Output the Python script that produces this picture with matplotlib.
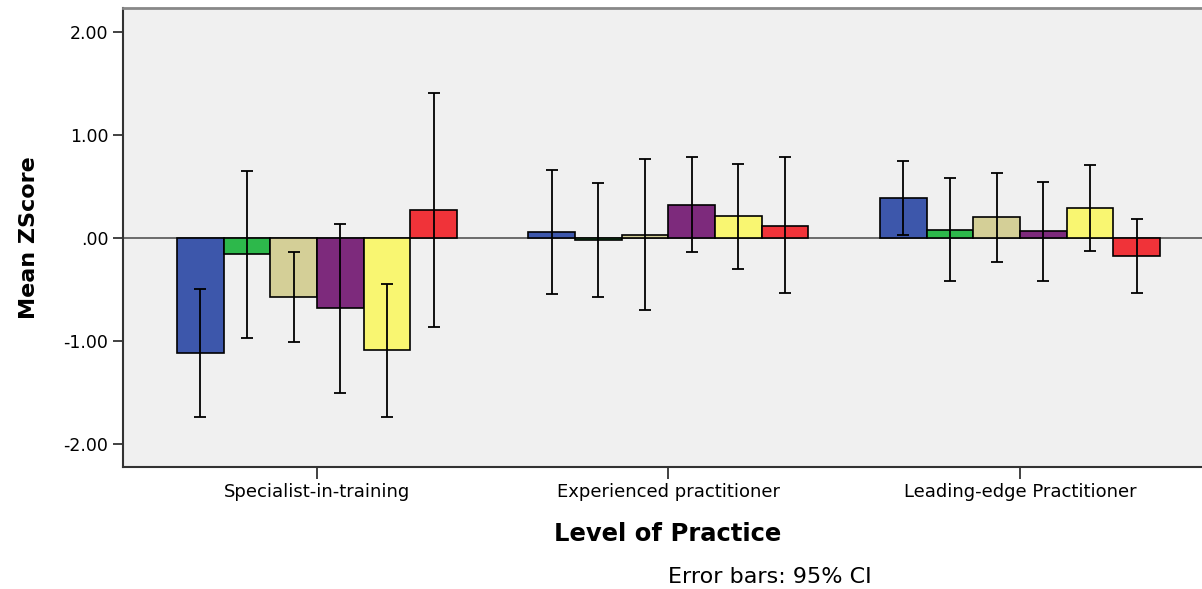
import numpy as np
import matplotlib
matplotlib.use("Agg")
import matplotlib.pyplot as plt

plt.rcParams['font.family'] = ['DejaVu Sans']

# values
levels = ["Specialist-in-training", "Experienced practitioner", "Leading-edge Practitioner"]
colors = ["#3D57AB", "#2DB84B", "#D4CF97", "#7D2A7C", "#F9F671", "#F03339"]

blue_mean = [-1.12, 0.06, 0.39]
green_mean = [-0.16, -0.02, 0.08]
khaki_mean = [-0.57, 0.03, 0.20]
purple_mean = [-0.68, 0.325, 0.065]
yellow_mean = [-1.09, 0.21, 0.29]
red_mean = [0.275, 0.12, -0.175]

blue_ci = [[-1.74, -0.545, 0.03], [-0.495, 0.66, 0.75]]
green_ci = [[-0.975, -0.575, -0.42], [0.655, 0.53, 0.583]]
khaki_ci = [[-1.005, -0.70, -0.236], [-0.133, 0.764, 0.634]]
purple_ci = [[-1.50, -0.139, -0.42], [0.133, 0.783, 0.547]]
yellow_ci = [[-1.735, -0.298, -0.126], [-0.447, 0.718, 0.709]]
red_ci = [[-0.861, -0.537, -0.537], [1.405, 0.783, 0.187]]

means = [blue_mean, green_mean, khaki_mean, purple_mean, yellow_mean, red_mean]
cis = [blue_ci, green_ci, khaki_ci, purple_ci, yellow_ci, red_ci]

fig = plt.figure(figsize=(12.02, 5.89), dpi=100)
ax = fig.add_axes([123/1202, 122/589, 1079/1202, 459/589])
ax.set_facecolor("#F0F0F0")

x = np.arange(len(levels))
w = 0.1328
for k, (m, ci) in enumerate(zip(means, cis)):
    pos = x + (k - 2.5) * w
    m = np.array(m)
    lo = np.array(ci[0])
    hi = np.array(ci[1])
    ax.bar(pos, m, width=w, color=colors[k], edgecolor="black", linewidth=1.2, zorder=2)
    ax.errorbar(pos, m, yerr=[m - lo, hi - m], fmt="none", ecolor="black",
                elinewidth=1.3, capsize=4.5, capthick=1.3, zorder=3)

ax.axhline(0, color="#555555", linewidth=1.2, zorder=1)

ax.set_xlim(-0.552, 2.518)
ax.set_ylim(-2.223, 2.233)
ax.set_yticks([-2, -1, 0, 1, 2])
ax.set_yticklabels(["-2.00", "-1.00", ".00", "1.00", "2.00"])
ax.set_xticks(x)
ax.set_xticklabels(levels, fontsize=13)
ax.tick_params(axis="y", labelsize=12.5)
ax.tick_params(axis="both", width=1.3, color="#333333")
ax.tick_params(axis="y", length=7.5, pad=3)
ax.tick_params(axis="x", length=8.5, pad=3)

ax.spines["right"].set_visible(False)
ax.spines["left"].set_color("#333333")
ax.spines["left"].set_linewidth(1.5)
ax.spines["bottom"].set_color("#333333")
ax.spines["bottom"].set_linewidth(1.5)
ax.spines["top"].set_color("#888888")
ax.spines["top"].set_linewidth(2)

ax.set_ylabel("Mean ZScore", fontsize=16, fontweight="bold")
ax.yaxis.set_label_coords(-0.087, 0.5)
ax.set_xlabel("Level of Practice", fontsize=17.5, fontweight="bold")
ax.xaxis.set_label_coords((668 - 123) / 1079, -(534 - 467) / 459)
ax.xaxis.label.set_va("center")
ax.yaxis.label.set_va("center")
fig.text(770/1202, 1 - 577/589, "Error bars: 95% CI", fontsize=16, ha="center", va="center")

fig.savefig("out.png", dpi=100)
